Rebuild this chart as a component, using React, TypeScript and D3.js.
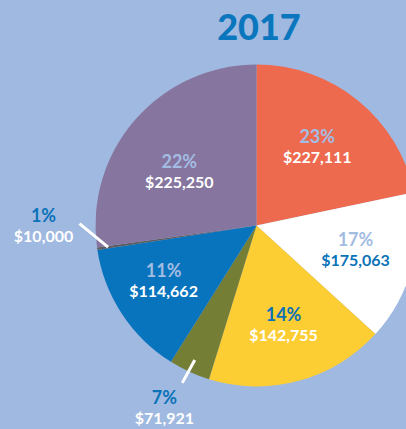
import { useEffect, useRef } from "react"
import * as d3 from "d3"

// slices clockwise from 12 o'clock
const pctLabels = ["23%", "17%", "14%", "7%", "11%", "1%", "22%"]
const amounts = [227111, 175063, 142755, 71921, 114662, 10000, 225250]
// share of the circle each wedge takes in the picture
const drawnShare = [21.7, 15.1, 18.0, 4.15, 13.65, 0.25, 27.2]
const title = "2017"

const sliceColors = ["#ee6a4e", "#ffffff", "#fdcd34", "#747e34", "#0874bd", "#5e5e60", "#86769f"]
const pctColors = ["#a3bce2", "#a3bce2", "#0a72b8", "#0a72b8", "#a3bce2", "#0a72b8", "#a3bce2"]
const amtColors = ["#ffffff", "#0a72b8", "#ffffff", "#ffffff", "#ffffff", "#ffffff", "#ffffff"]

const width = 406
const height = 429
const bg = "#a0b9e0"

export default function App() {
  const svgRef = useRef<SVGSVGElement>(null)

  useEffect(() => {
    if (!svgRef.current) return
    const svg = d3.select(svgRef.current)
    svg.selectAll("*").remove()

    const cx = 256.5
    const cy = 225.5
    const radius = 161

    svg.append("rect").attr("width", width).attr("height", height).attr("fill", bg)

    svg.append("text")
      .attr("x", 259)
      .attr("y", 40)
      .attr("text-anchor", "middle")
      .attr("font-family", "Lato, sans-serif")
      .attr("font-weight", 900)
      .attr("font-size", 36)
      .attr("fill", "#0a76bd")
      .text(title)

    const pie = d3.pie<number>().sort(null).value(d => d)
    const arcs = pie(drawnShare)
    const arc = d3.arc<d3.PieArcDatum<number>>().innerRadius(0).outerRadius(radius)

    const g = svg.append("g").attr("transform", `translate(${cx},${cy})`)

    g.selectAll("path.slice")
      .data(arcs)
      .join("path")
      .attr("class", "slice")
      .attr("d", arc)
      .attr("fill", (_, i) => sliceColors[i])

    // polar helper: angle in radians clockwise from top
    const polar = (a: number, r: number): [number, number] => [Math.sin(a) * r, -Math.cos(a) * r]
    const deg = Math.PI / 180

    // label placement: radius from centre and small angle nudge (deg)
    const labelR = [99, 102, 103, 204, 108, 213, 94]
    const labelNudge = [-1.2, -1.3, 0, 2.2, 2.7, 8.3, -6.3]

    // leader lines for the two small wedges
    const leaders = [
      { i: 3, r0: 148, r1: 174, shift: 0.6 },
      { i: 5, r0: 150, r1: 177, shift: 8.9 },
    ]
    leaders.forEach(l => {
      const a = arcs[l.i]
      const mid = (a.startAngle + a.endAngle) / 2
      const [x0, y0] = polar(mid, l.r0)
      const [x1, y1] = polar(mid + l.shift * deg, l.r1)
      g.append("line")
        .attr("x1", x0).attr("y1", y0)
        .attr("x2", x1).attr("y2", y1)
        .attr("stroke", "#ffffff")
        .attr("stroke-width", 3)
    })

    const fmt = d3.format("$,")

    arcs.forEach((a, i) => {
      const mid = (a.startAngle + a.endAngle) / 2 + labelNudge[i] * deg
      const [x, y] = polar(mid, labelR[i])
      g.append("text")
        .attr("x", x)
        .attr("y", y - 4)
        .attr("text-anchor", "middle")
        .attr("font-family", "Lato, sans-serif")
        .attr("font-weight", 700)
        .attr("font-size", 18)
        .attr("fill", pctColors[i])
        .text(pctLabels[i])
      g.append("text")
        .attr("x", x)
        .attr("y", y + 16)
        .attr("text-anchor", "middle")
        .attr("font-family", "Lato, sans-serif")
        .attr("font-weight", 700)
        .attr("font-size", 16)
        .attr("fill", amtColors[i])
        .text(fmt(amounts[i]))
    })
  }, [])

  return (
    <svg
      ref={svgRef}
      width={width}
      height={height}
      style={{ position: "fixed", left: 0, top: 0, display: "block" }}
    />
  )
}
